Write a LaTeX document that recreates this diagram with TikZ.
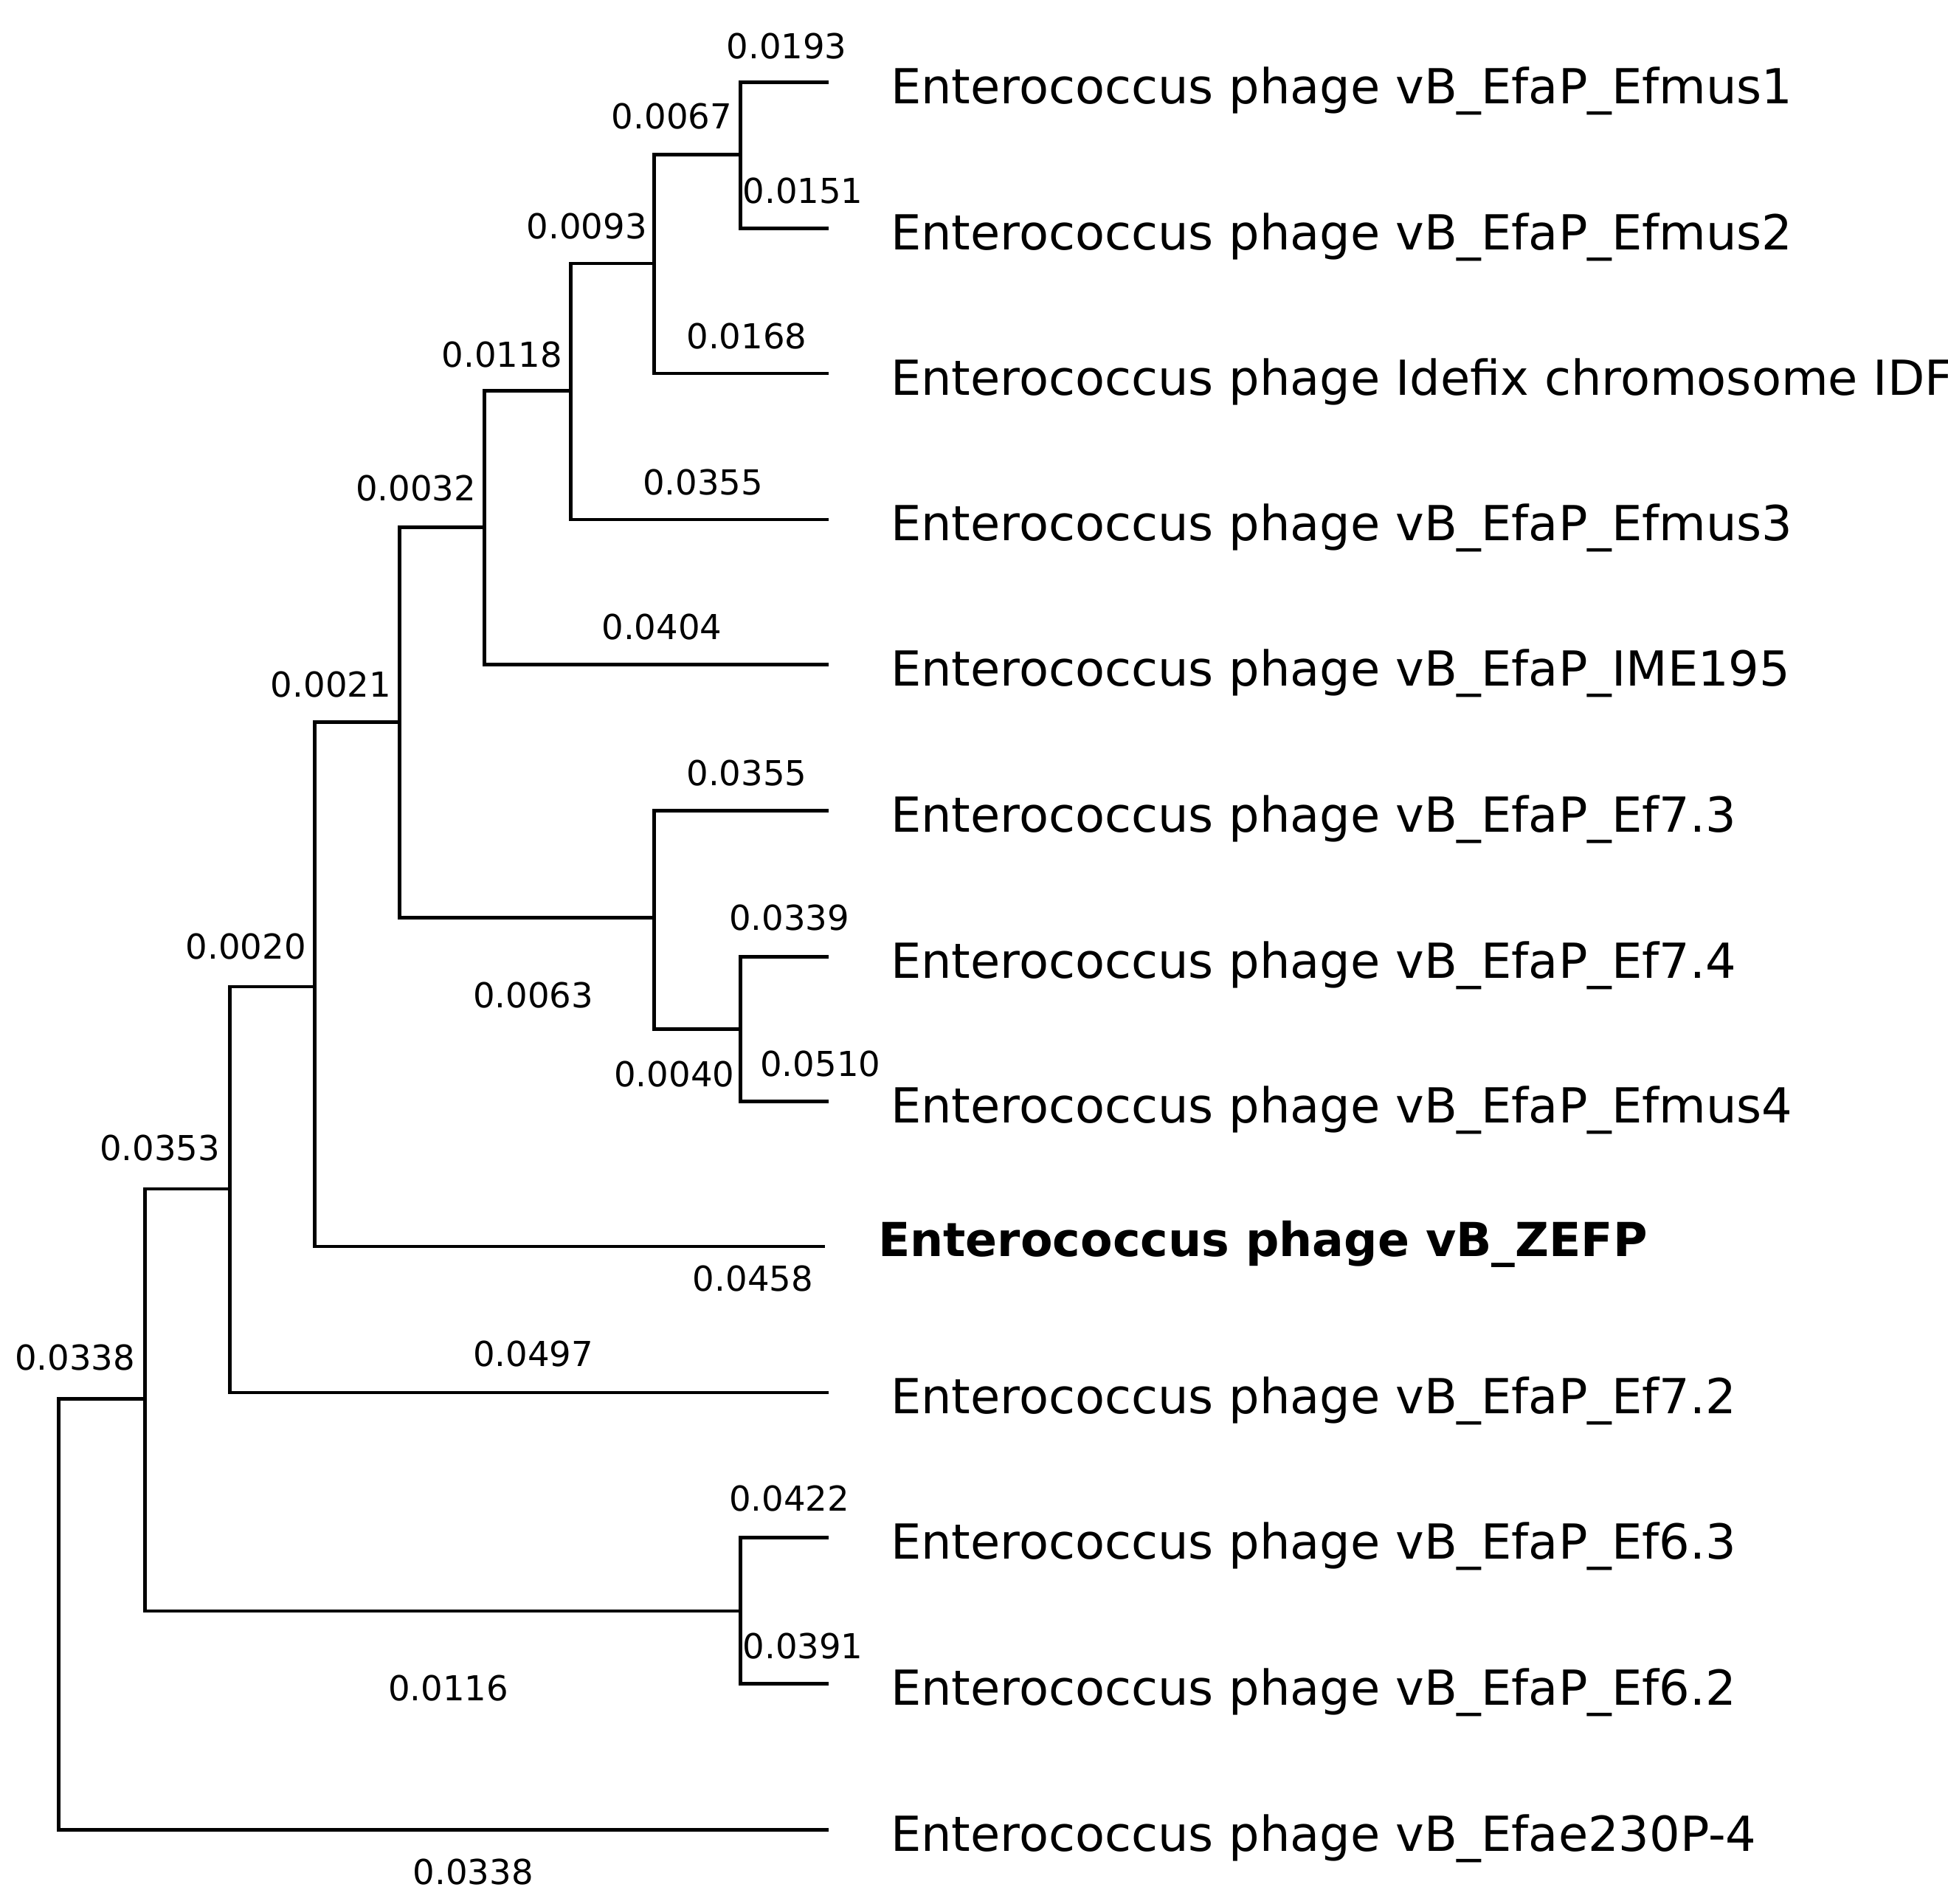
\documentclass[tikz,border=0pt]{standalone}
\usepackage{fontspec}
\setmainfont{DejaVu Sans}
\begin{document}
\begin{tikzpicture}[x=0.03cm,y=-0.03cm,
  br/.style={line width=2.4pt,line cap=rect},
  lf/.style={anchor=west,inner sep=0pt,font=\fontsize{33}{38}\selectfont},
  nm/.style={inner sep=0pt,font=\fontsize{23.5}{28}\selectfont}]
\useasboundingbox (0,0) rectangle (1560,1524);
% leaves
\foreach \n/\y in {l1/66,l2/183,l3/299,l4/416,l5/532,l6/649,l7/766,l8/882,l10/1115,l11/1231,l12/1348,l13/1465}
  \coordinate (\n) at (662,\y);
\coordinate (l9) at (659,998);
% internal nodes
\coordinate (A) at (593,124);
\coordinate (B) at (524,211);
\coordinate (C) at (457,313);
\coordinate (D) at (388,422);
\coordinate (E) at (593,824);
\coordinate (F) at (524,735);
\coordinate (G) at (320,578);
\coordinate (H) at (252,790);
\coordinate (I) at (184,952);
\coordinate (J) at (593,1290);
\coordinate (K) at (116,1120);
\coordinate (R) at (47,1292);
\foreach \p/\a/\b in {A/l1/l2,B/A/l3,C/B/l4,D/C/l5,E/l7/l8,F/l6/E,G/D/F,H/G/l9,I/H/l10,J/l11/l12,K/I/J,R/K/l13}
  \draw[br] (\a) -| (\p) |- (\b);
% leaf labels
\node[lf] (t1) at (713,73) {Enterococcus phage vB\_EfaP\_Efmus1};
\node[lf] (t2) at (713,190) {Enterococcus phage vB\_EfaP\_Efmus2};
\node[lf] (t3) at (713,306) {Enterococcus phage Idefix chromosome IDF};
\node[lf] (t4) at (713,423) {Enterococcus phage vB\_EfaP\_Efmus3};
\node[lf] (t5) at (713,539) {Enterococcus phage vB\_EfaP\_IME195};
\node[lf] (t6) at (713,656) {Enterococcus phage vB\_EfaP\_Ef7.3};
\node[lf] (t7) at (713,773) {Enterococcus phage vB\_EfaP\_Ef7.4};
\node[lf] (t8) at (713,889) {Enterococcus phage vB\_EfaP\_Efmus4};
\node[lf,font=\fontsize{32}{37}\selectfont\bfseries] (t9) at (703,996) {Enterococcus phage vB\_ZEFP};
\node[lf] (t10) at (713,1122) {Enterococcus phage vB\_EfaP\_Ef7.2};
\node[lf] (t11) at (713,1238) {Enterococcus phage vB\_EfaP\_Ef6.3};
\node[lf] (t12) at (713,1355) {Enterococcus phage vB\_EfaP\_Ef6.2};
\node[lf] (t13) at (713,1472) {Enterococcus phage vB\_Efae230P-4};
% branch lengths
\foreach \n/\x/\y/\t in {n1/630/37/0.0193,n2/538/93/0.0067,n3/643/153/0.0151,n4/470/181/0.0093,n5/598/269/0.0168,n6/402/284/0.0118,n7/563/386/0.0355,n8/333/391/0.0032,n9/530/502/0.0404,n10/265/548/0.0021,n11/598/619/0.0355,n12/632/735/0.0339,n13/197/758/0.0020,n14/427/797/0.0063,n15/540/860/0.0040,n16/657/852/0.0510,n17/128/919/0.0353,n18/603/1024/0.0458,n19/427/1084/0.0497,n20/60/1087/0.0338,n21/632/1200/0.0422,n22/643/1318/0.0391,n23/359/1352/0.0116,n24/379/1499/0.0338}
  \node[nm] (\n) at (\x,\y) {\t};
\end{tikzpicture}
\end{document}
